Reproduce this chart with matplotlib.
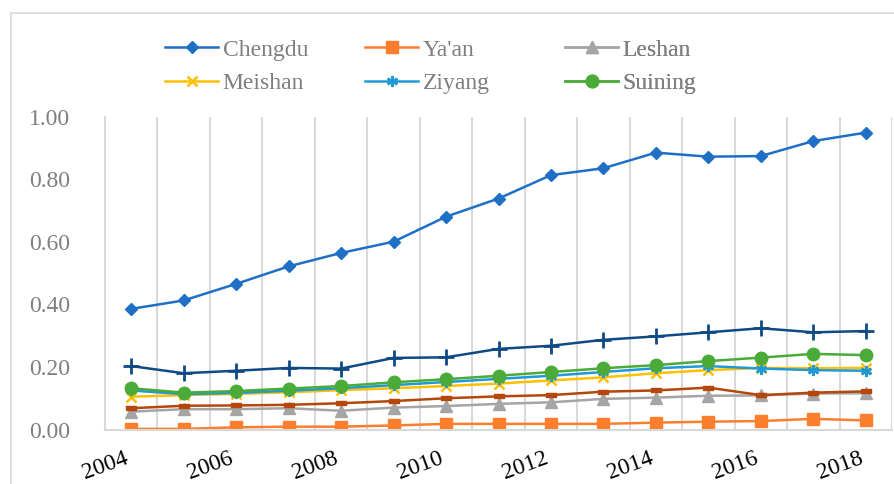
import matplotlib
matplotlib.use("Agg")
import matplotlib.pyplot as plt
from matplotlib.patches import Rectangle

years = list(range(2004, 2019))
chengdu = [0.386, 0.413, 0.466, 0.522, 0.565, 0.601, 0.681, 0.739, 0.814, 0.836,
           0.886, 0.873, 0.875, 0.923, 0.950]
yaan = [0.002, 0.002, 0.007, 0.009, 0.009, 0.013, 0.018, 0.018, 0.018, 0.018,
        0.022, 0.025, 0.027, 0.034, 0.029]
leshan = [0.057, 0.065, 0.065, 0.068, 0.060, 0.070, 0.075, 0.082, 0.087, 0.098,
          0.102, 0.108, 0.109, 0.115, 0.116]
meishan = [0.105, 0.110, 0.114, 0.119, 0.126, 0.132, 0.139, 0.147, 0.157, 0.167,
           0.180, 0.190, 0.197, 0.196, 0.197]
ziyang = [0.125, 0.113, 0.117, 0.124, 0.132, 0.142, 0.152, 0.162, 0.172, 0.184,
          0.196, 0.203, 0.195, 0.190, 0.188]
suining = [0.132, 0.118, 0.123, 0.131, 0.139, 0.151, 0.161, 0.172, 0.184, 0.196,
           0.206, 0.219, 0.230, 0.242, 0.238]
# two extra series with no legend entry
navy = [0.203, 0.180, 0.188, 0.197, 0.195, 0.229, 0.231, 0.258, 0.268, 0.287,
        0.298, 0.311, 0.324, 0.311, 0.315]
brown = [0.068, 0.076, 0.077, 0.079, 0.084, 0.091, 0.100, 0.106, 0.110, 0.121,
         0.125, 0.134, 0.110, 0.118, 0.122]

font = "Liberation Serif"
x = list(range(len(years)))

fig = plt.figure(figsize=(8.94, 4.84), dpi=100)
ax = fig.add_axes([105/894, 1-429.5/484, 787/894, 312.5/484])

# chart border (cropped on right/bottom)
fig.patches.append(Rectangle((11/894, -0.2), 2, 1.2 - 13/484,
                             transform=fig.transFigure, fill=False,
                             edgecolor="#d9d9d9", lw=1.2))

lw = 1.8
l1, = ax.plot(x, chengdu, color="#1f6fc6", lw=lw, marker="D", ms=6.5, label="Chengdu")
l2, = ax.plot(x, yaan, color="#fd7e2c", lw=lw, marker="s", ms=8.5, label="Ya'an")
l3, = ax.plot(x, leshan, color="#a5a5a5", lw=lw, marker="^", ms=8.5, label="Leshan")
l4, = ax.plot(x, meishan, color="#ffc000", lw=lw, marker="x", ms=7, mew=1.8, label="Meishan")
l5, = ax.plot(x, ziyang, color="#1f9ad6", lw=lw, marker=(6, 2, 0), ms=8, mew=1.8, label="Ziyang")
l6, = ax.plot(x, suining, color="#4aab38", lw=lw, marker="o", ms=9, label="Suining")
ax.plot(x, navy, color="#0f4a84", lw=lw, marker="+", ms=11, mew=2)
dash = [(-1, -0.45), (1, -0.45), (1, 0.45), (-1, 0.45), (-1, -0.45)]
ax.plot(x, brown, color="#b5470b", lw=lw, marker=dash, ms=7)

ax.set_xlim(-0.5, len(years) - 0.5)
ax.set_ylim(0, 1.0)
ax.set_yticks([0, 0.2, 0.4, 0.6, 0.8, 1.0])
ax.set_yticklabels(["%.2f" % v for v in [0, 0.2, 0.4, 0.6, 0.8, 1.0]],
                   fontfamily=font, fontsize=17, color="#7f7f7f")
ax.tick_params(axis="y", length=0, pad=25)

ax.set_xticks(x[::2])
ax.set_xticklabels([str(y) for y in years[::2]], fontfamily=font, fontsize=17,
                   rotation=20, ha="right", color="black")
ax.tick_params(axis="x", length=0, pad=13)

for k in range(len(years)):
    ax.axvline(k + 0.5, color="#d9d9d9", lw=1.5, zorder=0)

for s in ["top", "right"]:
    ax.spines[s].set_visible(False)
for s in ["left", "bottom"]:
    ax.spines[s].set_color("#d9d9d9")
    ax.spines[s].set_linewidth(1.5)

cols = [[l1, l4], [l2, l5], [l3, l6]]
xs = [165, 365, 565]
for hs, xp in zip(cols, xs):
    leg = ax.legend(handles=hs, loc="center left",
                    bbox_to_anchor=(xp/894, 1 - 66.5/484),
                    bbox_transform=fig.transFigure, frameon=False,
                    borderpad=0, borderaxespad=0, handlelength=2.25,
                    handletextpad=0.2, labelspacing=0.5,
                    prop={"family": font, "size": 17})
    for t in leg.get_texts():
        t.set_color("#7f7f7f")
    ax.add_artist(leg)

fig.savefig("out.png", dpi=100)
